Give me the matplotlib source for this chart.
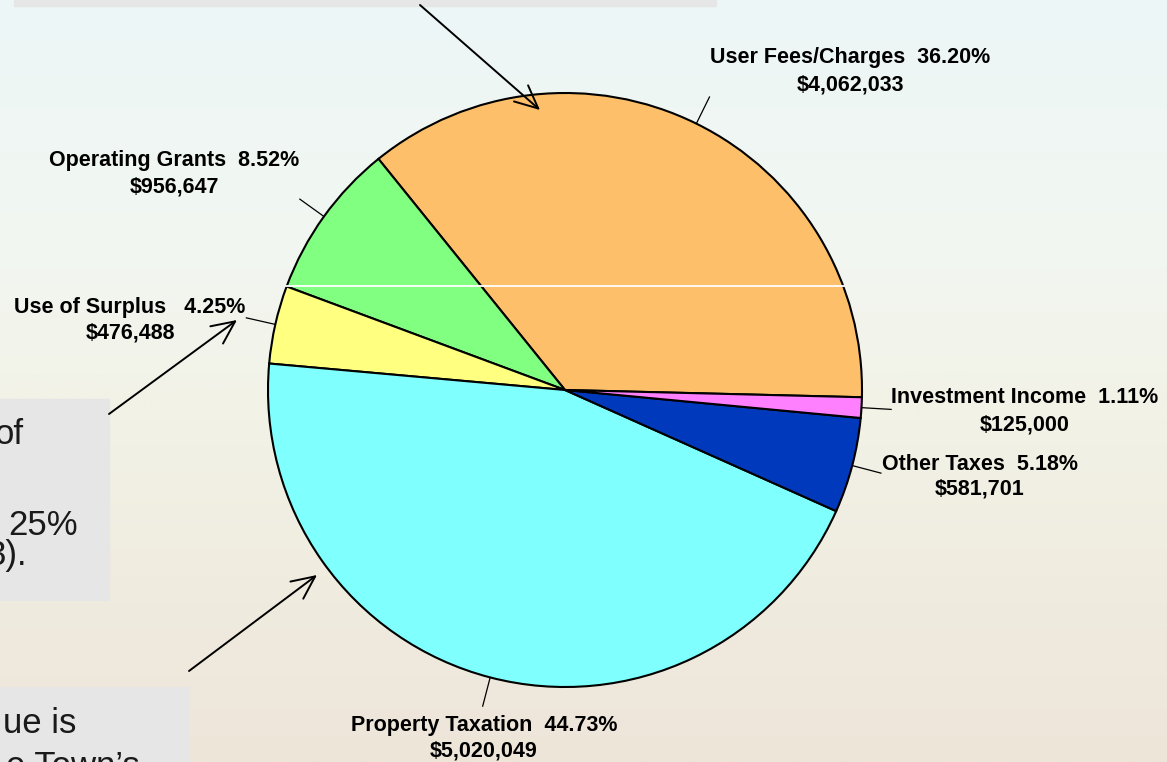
import numpy as np
import matplotlib
matplotlib.use("Agg")
import matplotlib.pyplot as plt
from matplotlib.patches import Rectangle, Arc
from matplotlib.colors import LinearSegmentedColormap

# ---------------- data ----------------
categories = ["User Fees/Charges", "Operating Grants", "Use of Surplus",
              "Property Taxation", "Other Taxes", "Investment Income"]
amounts = [4062033, 956647, 476488, 5020049, 581701, 125000]
percents = [36.20, 8.52, 4.25, 44.73, 5.18, 1.11]
colors = ["#FDBF6A", "#80FF80", "#FFFF80", "#80FFFF", "#0039BB", "#FF80FF"]

# label layout (pixel coords: x center, baseline of line 1, baseline of line 2)
label_x = [850, 174, 130, 484, 980, 1025]
label_y1 = [63, 166, 313, 731, 470, 403]
label_y2 = [90, 193, 338, 757, 495, 431]
label_gap = [2, 2, 3, 2, 2, 2]

W, H = 1167, 762
fig = plt.figure(figsize=(W / 100, H / 100), dpi=100)
ax = fig.add_axes([0, 0, 1, 1])

# ---------------- background ----------------
bg = LinearSegmentedColormap.from_list(
    "bg", [(0.0, "#edf7f7"), (0.35, "#f2f6f0"), (0.55, "#f2f2e6"), (1.0, "#eee5d9")])
grad = np.linspace(0, 1, 256).reshape(-1, 1)
ax.imshow(grad, cmap=bg, extent=(0, W, H, 0), aspect="auto", zorder=0)
ax.add_patch(Arc((583, 1210), 2 * 2420, 2 * 1200, theta1=60, theta2=120,
                 color="white", lw=3, alpha=0.6, zorder=0.5))

# grey text boxes (partially visible slide elements)
box_c = "#e6e6e6"
ax.add_patch(Rectangle((14, 0), 702, 6, color=box_c, zorder=1))
ax.add_patch(Rectangle((0, 399), 109, 201, color=box_c, zorder=1))
ax.add_patch(Rectangle((0, 687), 189, 80, color=box_c, zorder=1))
bt = dict(fontsize=25, color="#1a1a1a", family="Liberation Sans", zorder=2)
ax.text(24, 444, "of", ha="right", va="baseline", **bt)
ax.text(78, 535, "25%", ha="right", va="baseline", **bt)
ax.text(27, 565, "3).", ha="right", va="baseline", **bt)
ax.text(76, 733, "ue is", ha="right", va="baseline", **bt)
ax.text(140, 776, "e Town\u2019s", ha="right", va="baseline", **bt)

# ---------------- pie ----------------
cx, cy, R = 565, 390, 297
wedges, _ = ax.pie(amounts, colors=colors, center=(cx, cy), radius=R,
                   startangle=1.4, counterclock=False, frame=True,
                   wedgeprops=dict(edgecolor="black", linewidth=1.5))
for w in wedges:
    w.set_zorder(3)

# stray white line across the pie (slide artefact)
ax.plot([286, 844], [286, 286], color="white", lw=1.3, zorder=4)

# leader lines and labels
lf = dict(fontsize=15.5, fontweight="bold", family="Liberation Sans",
          color="black", ha="center", va="baseline", zorder=5)
for i, w in enumerate(wedges):
    mid = np.deg2rad((w.theta1 + w.theta2) / 2)
    x0, y0 = cx + R * np.cos(mid), cy + R * np.sin(mid)
    x1, y1 = cx + 1.1 * R * np.cos(mid), cy + 1.1 * R * np.sin(mid)
    ax.plot([x0, x1], [y0, y1], color="black", lw=0.9, zorder=5)
    ax.text(label_x[i], label_y1[i],
            f"{categories[i]}{' ' * label_gap[i]}{percents[i]:.2f}%", **lf)
    ax.text(label_x[i], label_y2[i], f"${amounts[i]:,}", **lf)

# arrows from the slide's callout boxes
ap = dict(arrowstyle="->,head_length=0.75,head_width=0.35", color="black",
          lw=1.4, mutation_scale=22, shrinkA=0, shrinkB=0)
ax.annotate("", xy=(540, 110), xytext=(420, 5), arrowprops=ap, zorder=6)
ax.annotate("", xy=(237, 320), xytext=(109, 414), arrowprops=ap, zorder=6)
ax.annotate("", xy=(317, 575), xytext=(189, 671), arrowprops=ap, zorder=6)

ax.set_xlim(0, W)
ax.set_ylim(H, 0)
ax.set_aspect("auto")
ax.axis("off")
fig.savefig("out.png", dpi=100)
